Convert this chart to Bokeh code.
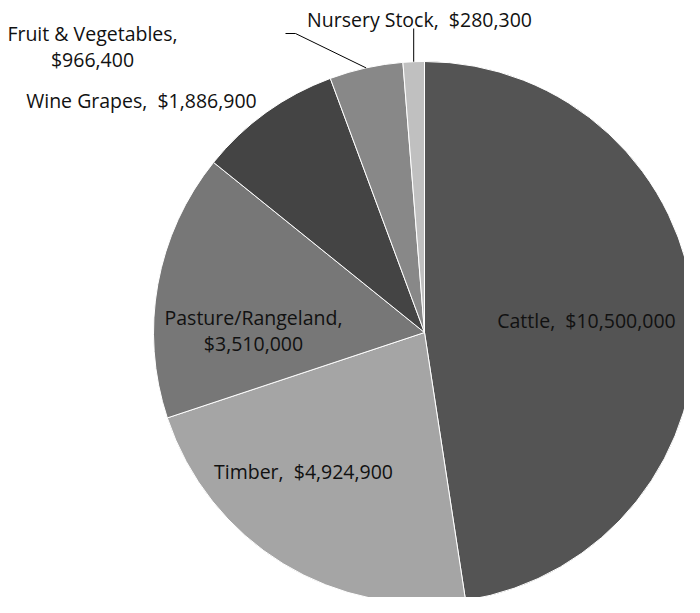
import numpy as np
from bokeh.plotting import figure
from bokeh.models import Range1d, ColumnDataSource
from bokeh.core.properties import value
from bokeh.embed import file_html
from bokeh.resources import INLINE

# ---- data ----
categories = ["Cattle", "Timber", "Pasture/Rangeland", "Wine Grapes",
              "Fruit & Vegetables", "Nursery Stock"]
values = [10500000, 4924900, 3510000, 1886900, 966400, 280300]
colors = ["#545454", "#a5a5a5", "#777777", "#444444", "#888888", "#c0c0c0"]

# ---- layout (screen pixel coordinates of the page) ----
W, H = 684, 597
OFF = 8
PAGE_H = H + 2 * OFF


def Y(sy):
    return PAGE_H - sy


CX, CY, R = 432, Y(340), 271

p = figure(width=W, height=H, output_backend="svg", toolbar_location=None,
           x_range=Range1d(OFF, OFF + W), y_range=Range1d(OFF, OFF + H),
           min_border=0)
p.axis.visible = False
p.grid.visible = False
p.outline_line_color = None
p.background_fill_color = "white"

vals = np.array(values, dtype=float)
frac = vals / vals.sum()
cum_after = np.cumsum(frac)
cum_before = cum_after - frac
start = np.pi / 2 - 2 * np.pi * cum_before
end = np.pi / 2 - 2 * np.pi * cum_after
mid = (start + end) / 2

src = ColumnDataSource(dict(cat=categories, val=values, color=colors,
                            start=start, end=end))
p.wedge(x=CX, y=CY, radius=R, start_angle="start", end_angle="end",
        direction="clock", fill_color="color", line_color="white",
        line_width=1, source=src)

# ---- labels ----
FONT = value("Open Sans")
FS = "19.5px"
LINE = 26
SEP = ",\u00a0 "
label_pos = {  # (center x, baseline y of first line), screen coords
    "Cattle": (594, 328),
    "Timber": (311, 479),
    "Pasture/Rangeland": (261, 325),
    "Wine Grapes": (149, 108),
    "Fruit & Vegetables": (100, 41),
    "Nursery Stock": (427, 27),
}
two_line = {"Pasture/Rangeland", "Fruit & Vegetables"}

tx, ty, tt = [], [], []
for cat, v in zip(categories, values):
    lx, ly = label_pos[cat]
    if cat in two_line:
        lines = [f"{cat},", f"${v:,}"]
    else:
        lines = [f"{cat}{SEP}${v:,}"]
    for i, s in enumerate(lines):
        tx.append(lx)
        ty.append(Y(ly + i * LINE))
        tt.append(s)

p.text(x=tx, y=ty, text=tt, text_font=FONT, text_font_size=FS,
       text_color="#111111", text_align="center", text_baseline="alphabetic")

# ---- leader lines for outside labels ----
i_fruit = categories.index("Fruit & Vegetables")
i_nurs = categories.index("Nursery Stock")
fx = CX + R * np.cos(mid[i_fruit])
fy = CY + R * np.sin(mid[i_fruit])
p.line(x=[293, 303, fx], y=[Y(41), Y(41), fy], line_color="black", line_width=1)
nx = CX + R * np.cos(mid[i_nurs])
ny = CY + R * np.sin(mid[i_nurs])
p.line(x=[nx, nx], y=[Y(36), ny], line_color="black", line_width=1)

open("out.html", "w").write(file_html(p, INLINE))
